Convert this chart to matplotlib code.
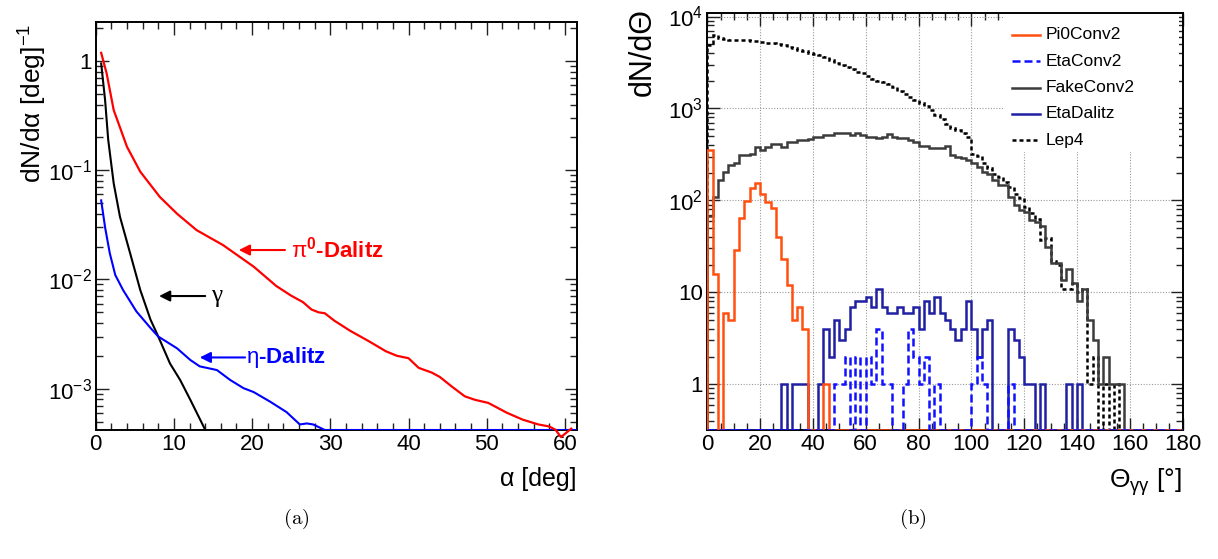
import numpy as np
import matplotlib
matplotlib.use("Agg")
import matplotlib.pyplot as plt
from matplotlib.lines import Line2D
from matplotlib.patches import Rectangle
from matplotlib.ticker import FixedLocator, FixedFormatter, MultipleLocator, NullFormatter

# ---------------- data: panel (a) ----------------
alpha_pi0 = [0.7, 1.4, 2.3, 4.0, 5.7, 8.2, 10.4, 12.9, 16.3, 20.2, 23.1, 25.0, 26.5, 27.6, 28.5,
             29.3, 30.5, 32.5, 35.0, 37.1, 38.5, 40.0, 41.3, 43.0, 44.0, 45.5, 47.2, 48.5, 50.2,
             52.6, 54.6, 56.6, 58.0, 58.8, 59.5, 60.8]
dnda_pi0 = [1.19, 0.77, 0.356, 0.164, 0.097, 0.057, 0.040, 0.0283, 0.0206, 0.0131, 0.0087, 0.0071,
            0.0062, 0.0053, 0.0050, 0.0049, 0.0042, 0.0034, 0.0027, 0.0022, 0.0020, 0.0019, 0.00155,
            0.00140, 0.00128, 0.00105, 0.00085, 0.00079, 0.00074, 0.00060, 0.00052, 0.00047,
            0.00045, 0.00042, 0.00036, 0.00043]

alpha_gamma = [0.7, 1.2, 1.6, 2.3, 3.1, 4.4, 5.7, 7.0, 8.0, 9.5, 10.8, 12.1, 14.0]
dnda_gamma = [0.95, 0.44, 0.19, 0.076, 0.0376, 0.0174, 0.0080, 0.0043, 0.0030, 0.0017, 0.0012,
              0.00079, 0.00042]

alpha_eta = [0.7, 1.2, 1.8, 2.5, 3.5, 5.2, 7.0, 8.0, 10.4, 12.1, 13.3, 15.5, 17.2, 18.9, 20.2,
             22.3, 24.4, 26.1, 27.0, 27.8, 29.3, 30.0, 61.6]
dnda_eta = [0.053, 0.030, 0.0174, 0.011, 0.0080, 0.0051, 0.0036, 0.0030, 0.00234, 0.00183, 0.00160,
            0.00148, 0.00120, 0.00101, 0.00093, 0.00076, 0.00061, 0.00047, 0.00048, 0.00047, 0.0,
            0.0, 0.0]

# ---------------- data: panel (b), 2-degree bins 0..180 ----------------
theta_edges = list(range(0, 182, 2))

pi0conv2 = [352, 16, 0, 6, 5, 29, 65, 98, 135, 154, 116, 97, 82, 40, 23, 12, 5, 7, 4, 0,
            0, 0, 1] + [0] * 67

etaconv2 = [0] * 24 + [1, 1, 2, 0, 2, 0, 2, 1, 4, 1, 1, 0, 0, 1, 4, 2, 1, 2, 0, 1,
                       0, 0, 0, 0, 0, 0, 1, 2, 1, 0, 0, 0, 0, 1] + [0] * 32

fakeconv2 = [67, 110, 167, 204, 243, 253, 311, 311, 323, 380, 350, 380, 414, 414, 380, 436, 436,
             453, 453, 460, 490, 490, 514, 514, 536, 536, 545, 514, 536, 514, 490, 490, 480, 490,
             525, 490, 472, 472, 453, 436, 390, 390, 370, 370, 370, 390, 311, 300, 290, 275, 253,
             232, 204, 196, 167, 147, 147, 110, 89, 78, 75, 61, 58, 52, 31, 21, 21, 13.6, 18, 12.5,
             8, 11, 5, 3, 1, 2, 1, 1, 1] + [0] * 11

etadalitz = [0] * 14 + [1, 0, 1, 1, 1, 0, 0, 1, 4, 2, 5, 3, 4, 7, 8, 8, 9, 7, 11, 7, 6, 6, 7, 6,
                        6, 7, 4, 8, 6, 9, 6, 5, 4, 3, 4, 8, 4, 2, 4, 5, 0, 0, 0, 4, 3, 2, 1, 1, 0,
                        1, 0, 0, 0, 0, 1, 0, 1] + [0] * 19

lep4 = [4900, 6300, 5900, 5700, 5600, 5600, 5500, 5500, 5450, 5400, 5300, 5200, 5200, 5000, 4850,
        4700, 4500, 4350, 4200, 4000, 3900, 3800, 3600, 3400, 3100, 2950, 2800, 2700, 2500, 2400,
        2250, 2100, 2000, 1950, 1850, 1700, 1550, 1450, 1330, 1250, 1150, 1050, 960, 850, 760, 680,
        620, 580, 540, 490, 320, 305, 255, 225, 195, 180, 160, 140, 118, 105, 85, 72, 62, 37, 39,
        22, 20, 11, 11, 12.5, 10, 11, 1, 2, 0, 1, 0, 1, 0] + [0] * 11

legend_labels = ["Pi0Conv2", "EtaConv2", "FakeConv2", "EtaDalitz", "Lep4"]

# ---------------- style ----------------
plt.rcParams['font.family'] = ['Liberation Sans', 'DejaVu Sans']
plt.rcParams['mathtext.fontset'] = 'custom'
plt.rcParams['mathtext.rm'] = 'Liberation Sans'
plt.rcParams['mathtext.it'] = 'Liberation Sans:italic'
plt.rcParams['mathtext.bf'] = 'Liberation Sans:bold'

W, H = 1218, 559
fig = plt.figure(figsize=(W / 100, H / 100), dpi=100)


def px_axes(l, t, r, b):
    return fig.add_axes([l / W, 1 - b / H, (r - l) / W, (b - t) / H])


TICK_FS = 16


def style_axes(ax):
    ax.tick_params(which='both', direction='in', top=True, right=True, labelsize=TICK_FS,
                   width=1.0, colors='#222222', labelcolor='black')
    ax.tick_params(which='major', length=9, pad=3)
    ax.tick_params(which='minor', length=5)
    for s in ax.spines.values():
        s.set_linewidth(1.4)
        s.set_color('black')


# ---------------- panel (a) ----------------
axL = px_axes(95.7, 22, 577.2, 430)
yminL, ymaxL = 4.18e-4, 2.28
axL.set_yscale('log')
axL.set_xlim(0, 61.57)
axL.set_ylim(yminL, ymaxL)

axL.plot(alpha_gamma, dnda_gamma, color='black', lw=1.5, zorder=3)
axL.plot(alpha_eta, np.maximum(dnda_eta, yminL), color='#0000ff', lw=1.5, zorder=3)
axL.plot(alpha_pi0, dnda_pi0, color='#ff0000', lw=1.6, zorder=4, clip_on=False)

axL.xaxis.set_major_locator(MultipleLocator(10))
axL.xaxis.set_minor_locator(MultipleLocator(2))
axL.yaxis.set_major_locator(FixedLocator([1e-3, 1e-2, 1e-1, 1]))
axL.yaxis.set_major_formatter(FixedFormatter([r'$10^{-3}$', r'$10^{-2}$', r'$10^{-1}$', '1']))
minorsL = [m * 10.0 ** e for e in range(-4, 1) for m in range(2, 10)]
axL.yaxis.set_minor_locator(FixedLocator(minorsL))
axL.yaxis.set_minor_formatter(NullFormatter())
style_axes(axL)

ann_kw = dict(arrowstyle='-|>', mutation_scale=16, lw=1.5, shrinkA=0, shrinkB=0)
axL.annotate('', xy=(18.3, 0.0186), xytext=(24.2, 0.0186),
             arrowprops=dict(color='#ff0000', **ann_kw))
axL.text(25.0, 0.0186, r'$\mathrm{π}^{\mathbf{0}}$-Dalitz', color='#ff0000', fontsize=16,
         fontweight='bold', va='center', ha='left')
axL.annotate('', xy=(8.1, 0.00705), xytext=(14.0, 0.00705),
             arrowprops=dict(color='black', **ann_kw))
axL.text(14.7, 0.00705, 'γ', color='black', fontsize=18, va='center', ha='left',
         family=['Liberation Serif', 'DejaVu Serif'])
axL.annotate('', xy=(13.3, 0.00193), xytext=(19.1, 0.00193),
             arrowprops=dict(color='#0000ff', **ann_kw))
axL.text(19.2, 0.00193, r'$\mathrm{η}$-Dalitz', color='#0000ff', fontsize=16,
         fontweight='bold', va='center', ha='left')

fig.text(33 / W, 1 - 24 / H, 'dN/dα [deg]$^{-1}$', rotation=90, ha='center', va='top',
         fontsize=19)
fig.text(577 / W, 1 - 479 / H, 'α [deg]', ha='right', va='center', fontsize=18)

# ---------------- panel (b) ----------------
axR = px_axes(707.3, 12.7, 1182.5, 430)
yminR, ymaxR = 0.318, 1.1e4
axR.set_yscale('log')
axR.set_xlim(0, 180)
axR.set_ylim(yminR, ymaxR)
axR.grid(True, which='major', ls=(0, (1, 1.5)), color='#9a9a9a', lw=0.8, zorder=0)

LW = 1.8
c_pi0, c_etac, c_fake, c_etad, c_lep = '#ff5010', '#1010ff', '#3c3c3c', '#2020a4', 'black'
ls_etac = (0, (3.2, 1.6))
ls_lep = (0, (1.6, 1.2))


def hist(vals, color, ls, z):
    v = np.maximum(np.asarray(vals, dtype=float), yminR)
    axR.stairs(v, theta_edges, baseline=yminR, color=color, lw=LW, linestyle=ls, zorder=z)


hist(lep4, c_lep, ls_lep, 3.0)
hist(fakeconv2, c_fake, '-', 3.1)
hist(etadalitz, c_etad, '-', 3.2)
hist(pi0conv2, c_pi0, '-', 3.3)
hist(etaconv2, c_etac, ls_etac, 3.4)

axR.xaxis.set_major_locator(MultipleLocator(20))
axR.xaxis.set_minor_locator(MultipleLocator(5))
axR.yaxis.set_major_locator(FixedLocator([1, 10, 100, 1000, 10000]))
axR.yaxis.set_major_formatter(FixedFormatter(['1', '10', r'$10^{2}$', r'$10^{3}$', r'$10^{4}$']))
minorsR = [m * 10.0 ** e for e in range(-1, 5) for m in range(2, 10)]
axR.yaxis.set_minor_locator(FixedLocator(minorsR))
axR.yaxis.set_minor_formatter(NullFormatter())
style_axes(axR)

# legend (white box without border)
axR.add_patch(Rectangle((0.622, 0.666), 0.37, 0.33, transform=axR.transAxes,
                        facecolor='white', edgecolor='none', zorder=2))
leg_styles = [(c_pi0, '-'), (c_etac, ls_etac), (c_fake, '-'), (c_etad, '-'), (c_lep, ls_lep)]
for i, (lab, (c, ls)) in enumerate(zip(legend_labels, leg_styles)):
    y = 0.9466 - i * 0.0630
    axR.add_line(Line2D([0.6406, 0.6998], [y, y], transform=axR.transAxes, color=c, lw=LW,
                        linestyle=ls, zorder=5))
    axR.text(0.7127, y, lab, transform=axR.transAxes, fontsize=12.5, va='center', ha='left',
             zorder=5)

fig.text(643 / W, 1 - 8 / H, 'dN/dΘ', rotation=90, ha='center', va='top', fontsize=22)
fig.text(1182 / W, 1 - 482 / H, r'Θ$_{\mathrm{γγ}}$ [°]', ha='right', va='center', fontsize=19)

# captions
fig.text(296 / W, 1 - 519 / H, r'$\mathrm{(a)}$', ha='center', va='center', fontsize=15,
         math_fontfamily='cm')
fig.text(913 / W, 1 - 519 / H, r'$\mathrm{(b)}$', ha='center', va='center', fontsize=15,
         math_fontfamily='cm')

fig.savefig('out.png', dpi=100)
